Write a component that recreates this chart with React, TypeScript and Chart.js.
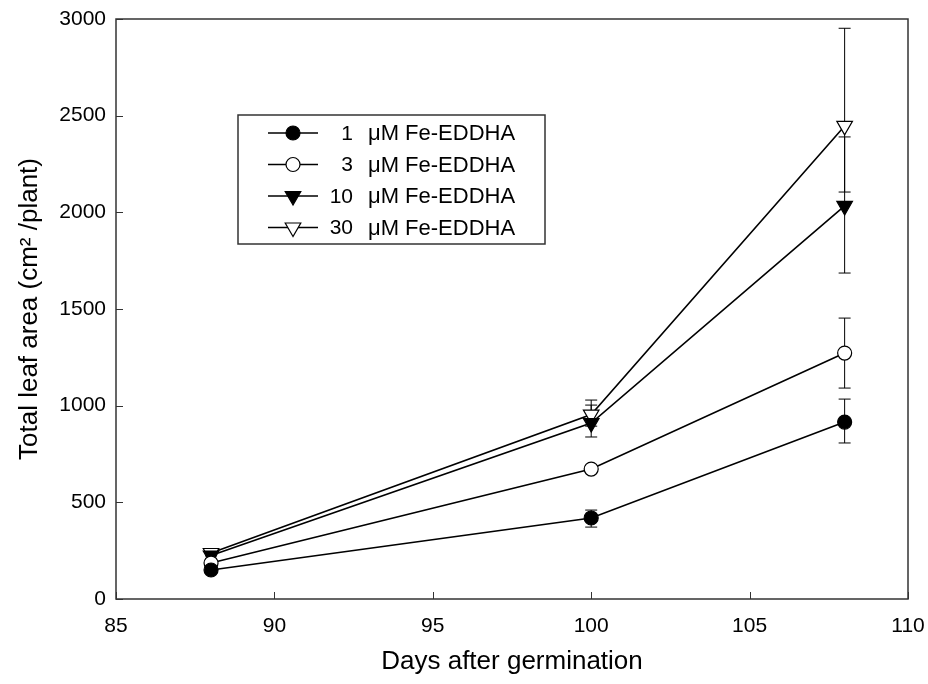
import React, { useEffect, useRef } from "react";
import { Chart, registerables } from "chart.js";
import { drawPoint } from "chart.js/helpers";

Chart.register(...registerables);

// ---- data ----
const days = [88, 100, 108];
const seriesNumbers = ["1", "3", "10", "30"];
const seriesUnit = "\u03bcM Fe-EDDHA";
const fe1 = [150, 419, 915];
const fe3 = [186, 672, 1272];
const fe10 = [225, 910, 2033];
const fe30 = [238, 954, 2447];
const fe1ErrUp = [15, 41, 119];
const fe1ErrDown = [15, 47, 108];
const fe3ErrUp = [15, 20, 181];
const fe3ErrDown = [15, 20, 181];
const fe10ErrUp = [15, 93, 357];
const fe10ErrDown = [15, 72, 347];
const fe30ErrUp = [15, 75, 505];
const fe30ErrDown = [15, 60, 342];
const xTicks = [85, 90, 95, 100, 105, 110];
const yTicks = [0, 500, 1000, 1500, 2000, 2500, 3000];
const xTitle = "Days after germination";
const yTitle = "Total leaf area (cm\u00b2 /plant)";

const FONT = "'Liberation Sans', Arial, Helvetica, sans-serif";

const errUps = [fe1ErrUp, fe3ErrUp, fe10ErrUp, fe30ErrUp];
const errDowns = [fe1ErrDown, fe3ErrDown, fe10ErrDown, fe30ErrDown];

const errorBarPlugin = {
  id: "errorBars",
  beforeDatasetsDraw(chart: any) {
    const { ctx, scales } = chart;
    const xs = scales.x;
    const ys = scales.y;
    ctx.save();
    ctx.strokeStyle = "#000";
    ctx.lineWidth = 1;
    chart.data.datasets.forEach((ds: any, i: number) => {
      ds.data.forEach((p: any, j: number) => {
        const x = xs.getPixelForValue(p.x);
        const yTop = ys.getPixelForValue(p.y + errUps[i][j]);
        const yBot = ys.getPixelForValue(p.y - errDowns[i][j]);
        const cap = 6;
        ctx.beginPath();
        ctx.moveTo(x, yTop);
        ctx.lineTo(x, yBot);
        ctx.moveTo(x - cap, yTop);
        ctx.lineTo(x + cap, yTop);
        ctx.moveTo(x - cap, yBot);
        ctx.lineTo(x + cap, yBot);
        ctx.stroke();
      });
    });
    ctx.restore();
  },
};

const framePlugin = {
  id: "frame",
  beforeDatasetsDraw(chart: any) {
    const { ctx, chartArea: a, scales } = chart;
    ctx.save();
    ctx.strokeStyle = "#333";
    ctx.lineWidth = 1.5;
    ctx.strokeRect(a.left, a.top, a.right - a.left, a.bottom - a.top);
    ctx.lineWidth = 1;
    ctx.beginPath();
    xTicks.forEach((v) => {
      const x = Math.round(scales.x.getPixelForValue(v)) + 0.5;
      ctx.moveTo(x, a.bottom);
      ctx.lineTo(x, a.bottom - 7);
    });
    yTicks.forEach((v) => {
      const y = Math.round(scales.y.getPixelForValue(v)) + 0.5;
      ctx.moveTo(a.left, y);
      ctx.lineTo(a.left + 7, y);
    });
    ctx.stroke();
    ctx.restore();
  },
};

const legendPlugin = {
  id: "customLegend",
  afterDraw(chart: any) {
    const { ctx } = chart;
    ctx.save();
    ctx.strokeStyle = "#333";
    ctx.lineWidth = 1.5;
    ctx.strokeRect(238, 115, 307, 129);
    chart.data.datasets.forEach((ds: any, i: number) => {
      const y = 133 + i * 31.5;
      ctx.strokeStyle = "#000";
      ctx.lineWidth = 1.5;
      ctx.beginPath();
      ctx.moveTo(268, y);
      ctx.lineTo(318, y);
      ctx.stroke();
      ctx.fillStyle = ds.pointBackgroundColor;
      ctx.strokeStyle = ds.pointBorderColor;
      ctx.lineWidth = ds.pointBorderWidth;
      drawPoint(
        ctx,
        { pointStyle: ds.pointStyle, rotation: ds.pointRotation, radius: ds.pointRadius, borderWidth: ds.pointBorderWidth },
        293,
        y
      );
      ctx.fillStyle = "#000";
      ctx.textBaseline = "middle";
      ctx.font = `21px ${FONT}`;
      ctx.textAlign = "right";
      ctx.fillText(seriesNumbers[i], 353, y + 1);
      ctx.font = `22px ${FONT}`;
      ctx.textAlign = "left";
      ctx.fillText(seriesUnit, 368, y + 1);
    });
    ctx.restore();
  },
};

function mk(values: number[], filled: boolean, style: string, radius: number, rot: number, idx: number) {
  return {
    label: `${seriesNumbers[idx]} ${seriesUnit}`,
    data: values.map((v, i) => ({ x: days[i], y: v })),
    borderColor: "#000",
    borderWidth: 1.6,
    pointStyle: style,
    pointRotation: rot,
    pointRadius: radius,
    pointBorderWidth: 1.2,
    pointBackgroundColor: filled ? "#000" : "#fff",
    pointBorderColor: "#000",
    fill: false,
    tension: 0,
  };
}

export default function App() {
  const ref = useRef<HTMLCanvasElement>(null);
  useEffect(() => {
    if (!ref.current) return;
    const chart = new Chart(ref.current, {
      type: "line",
      data: {
        datasets: [
          mk(fe1, true, "circle", 7, 0, 0),
          mk(fe3, false, "circle", 7, 0, 1),
          mk(fe10, true, "triangle", 9, 180, 2),
          mk(fe30, false, "triangle", 9, 180, 3),
        ] as any,
      },
      options: {
        responsive: false,
        animation: false,
        devicePixelRatio: 1,
        layout: { padding: { top: 19, right: 20, left: 0, bottom: 0 } },
        plugins: { legend: { display: false }, tooltip: { enabled: false } },
        scales: {
          x: {
            type: "linear",
            min: 85,
            max: 110,
            afterFit: (s: any) => {
              s.height = 85;
              s.paddingLeft = 0;
              s.paddingRight = 0;
            },
            afterBuildTicks: (s: any) => {
              s.ticks = xTicks.map((v) => ({ value: v }));
            },
            ticks: {
              font: { size: 21, family: FONT },
              color: "#000",
              padding: 15,
              maxRotation: 0,
              callback: (v: any) => String(v),
            },
            grid: { display: false, drawTicks: false },
            border: { display: false },
            title: {
              display: true,
              text: xTitle,
              color: "#000",
              font: { size: 26, family: FONT },
              padding: { top: 0, bottom: 7 },
            },
          },
          y: {
            type: "linear",
            min: 0,
            max: 3000,
            afterFit: (s: any) => {
              s.width = 116;
              s.paddingTop = 0;
              s.paddingBottom = 0;
            },
            afterBuildTicks: (s: any) => {
              s.ticks = yTicks.map((v) => ({ value: v }));
            },
            ticks: {
              font: { size: 21, family: FONT },
              color: "#000",
              padding: 10,
              callback: (v: any) => String(v),
            },
            grid: { display: false, drawTicks: false },
            border: { display: false },
            title: {
              display: true,
              text: yTitle,
              color: "#000",
              font: { size: 26, family: FONT },
              padding: { top: 14, bottom: 0 },
            },
          },
        },
      },
      plugins: [framePlugin, errorBarPlugin, legendPlugin],
    });
    return () => chart.destroy();
  }, []);
  return (
    <div style={{ position: "absolute", left: 0, top: 0, width: 928, height: 684, background: "#fff" }}>
      <canvas ref={ref} width={928} height={684} />
    </div>
  );
}
